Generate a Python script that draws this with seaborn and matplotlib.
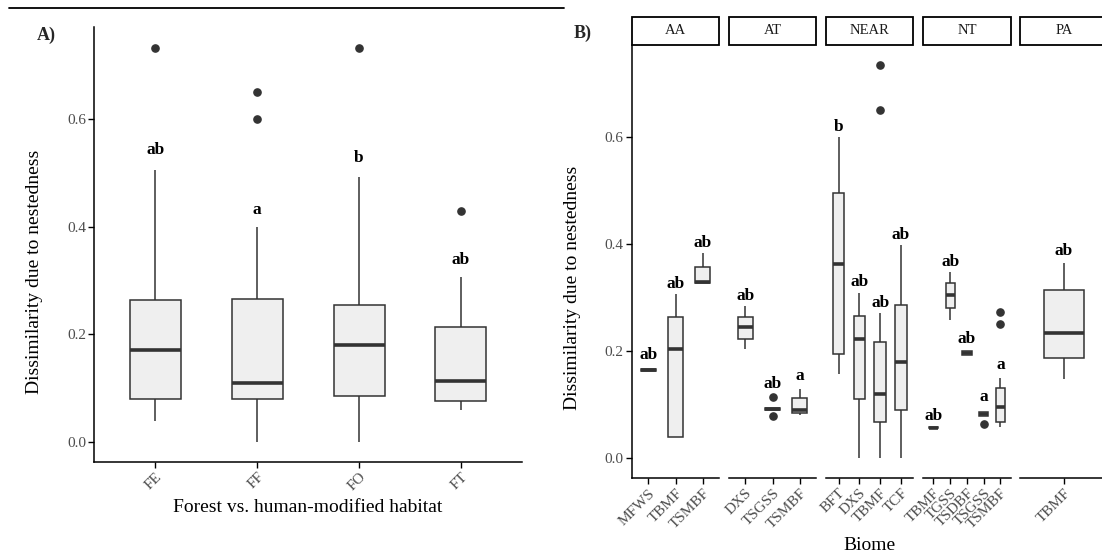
import matplotlib
matplotlib.use("Agg")
import matplotlib.pyplot as plt
from matplotlib.lines import Line2D
from matplotlib.patches import Rectangle
import pandas as pd
import seaborn as sns

# ---- Panel A: forest vs. human-modified habitat (box summaries) ----
habitat = ["FE", "FF", "FO", "FT"]
hab_low = [0.039, 0.000, 0.000, 0.059]
hab_q1 = [0.080, 0.080, 0.085, 0.075]
hab_med = [0.171, 0.109, 0.180, 0.114]
hab_q3 = [0.264, 0.265, 0.255, 0.213]
hab_high = [0.506, 0.400, 0.492, 0.306]
hab_out = [[0.733], [0.600, 0.650], [0.733], [0.430]]
hab_letters = ["ab", "a", "b", "ab"]
hab_letter_y = [0.535, 0.423, 0.520, 0.330]

# ---- Panel B: biomes within each realm ----
realms = ["AA", "AT", "NEAR", "NT", "PA"]
biome_realm = ["AA", "AA", "AA", "AT", "AT", "AT", "NEAR", "NEAR", "NEAR", "NEAR",
               "NT", "NT", "NT", "NT", "NT", "PA"]
biome_name = ["MFWS", "TBMF", "TSMBF", "DXS", "TSGSS", "TSMBF", "BFT", "DXS", "TBMF", "TCF",
              "TBMF", "TGSS", "TSDBF", "TSGSS", "TSMBF", "TBMF"]
biome_low = [0.164, 0.040, 0.327, 0.205, 0.090, 0.081, 0.157, 0.000, 0.000, 0.000,
             0.056, 0.259, 0.194, 0.079, 0.058, 0.149]
biome_q1 = [0.164, 0.040, 0.327, 0.223, 0.090, 0.085, 0.196, 0.111, 0.069, 0.091,
            0.056, 0.281, 0.194, 0.079, 0.069, 0.1875]
biome_med = [0.166, 0.205, 0.329, 0.2455, 0.0925, 0.091, 0.364, 0.2225, 0.121, 0.181,
             0.057, 0.305, 0.1975, 0.083, 0.0955, 0.234]
biome_q3 = [0.168, 0.264, 0.357, 0.265, 0.094, 0.1125, 0.496, 0.266, 0.218, 0.287,
            0.058, 0.3275, 0.201, 0.086, 0.132, 0.314]
biome_high = [0.168, 0.307, 0.384, 0.284, 0.094, 0.130, 0.600, 0.309, 0.271, 0.399,
              0.058, 0.348, 0.201, 0.086, 0.151, 0.365]
biome_out = [[], [], [], [], [0.079, 0.115], [], [], [], [0.650, 0.735], [],
             [], [], [], [0.065], [0.252, 0.274], []]
biome_letters = ["ab", "ab", "ab", "ab", "ab", "a", "b", "ab", "ab", "ab",
                 "ab", "ab", "ab", "a", "a", "ab"]
biome_letter_y = [0.186, 0.318, 0.395, 0.296, 0.132, 0.146, 0.611, 0.3225, 0.282, 0.410,
                  0.0725, 0.360, 0.216, 0.1075, 0.168, 0.3795]


def group_points(low, q1, med, q3, high, out, n=20):
    """Observations whose quartiles, whiskers and outliers equal the given summary."""
    pts = [q1] * n + [med] * n + [q3] * n
    if low < q1:
        pts.append(low)
    if high > q3:
        pts.append(high)
    return pts + list(out)


rows_a = []
for i, h in enumerate(habitat):
    for v in group_points(hab_low[i], hab_q1[i], hab_med[i], hab_q3[i], hab_high[i], hab_out[i]):
        rows_a.append({"habitat": h, "value": v})
df_a = pd.DataFrame(rows_a)

rows_b = []
for i in range(len(biome_name)):
    for v in group_points(biome_low[i], biome_q1[i], biome_med[i], biome_q3[i],
                          biome_high[i], biome_out[i]):
        rows_b.append({"realm": biome_realm[i], "biome": biome_name[i], "value": v})
df_b = pd.DataFrame(rows_b)

# ---- style ----
sns.set_theme(style="ticks")
plt.rcParams["font.family"] = ["Liberation Serif", "DejaVu Serif"]
plt.rcParams["axes.linewidth"] = 1.1

W, H = 1102, 555
BOX_FILL = "#efefef"
LINE = "#333333"
TICK_TXT = "#4d4d4d"
YLIM = (-0.037, 0.772)


def px_axes(x0, y_top, x1, y_bot):
    return [x0 / W, 1 - y_bot / H, (x1 - x0) / W, (y_bot - y_top) / H]


def draw_boxes(ax, data, xcol, order, width):
    sns.boxplot(data=data, x=xcol, y="value", order=order, ax=ax, width=width,
                color=BOX_FILL, linecolor=LINE, linewidth=1.1, fliersize=5.2,
                showcaps=False,
                medianprops=dict(linewidth=2.6, color=LINE),
                flierprops=dict(marker="o", markerfacecolor=LINE, markeredgecolor=LINE))
    ax.set_ylim(*YLIM)
    ax.set_xlim(-0.6, len(order) - 0.4)
    ax.set_xlabel("")
    ax.set_ylabel("")
    ax.spines["top"].set_visible(False)
    ax.spines["right"].set_visible(False)
    ax.spines["left"].set_color("black")
    ax.spines["bottom"].set_color("black")
    ax.tick_params(axis="both", length=4, width=1, color="black",
                   labelcolor=TICK_TXT, labelsize=11, pad=2)
    ax.set_xticks(range(len(order)))
    ax.set_xticklabels(order, rotation=45, ha="right", va="top", rotation_mode="anchor")
    ax.set_yticks([0.0, 0.2, 0.4, 0.6])
    ax.set_yticklabels(["0.0", "0.2", "0.4", "0.6"])
    ax.set_facecolor("white")


fig = plt.figure(figsize=(W / 100, H / 100), dpi=100)
fig.patch.set_facecolor("white")

# rule across the top of panel A
fig.add_artist(Line2D([9 / W, 564 / W], [1 - 8 / H, 1 - 8 / H], color="black", lw=1.3))

# ---- panel A ----
ax_a = fig.add_axes(px_axes(94.3, 26.7, 522, 461.7))
draw_boxes(ax_a, df_a, "habitat", habitat, 0.5)
for i, (lab, y) in enumerate(zip(hab_letters, hab_letter_y)):
    ax_a.text(i, y, lab, ha="center", va="baseline", fontsize=12.5, fontweight="bold", color="black")
ax_a.set_ylabel("Dissimilarity due to nestedness", fontsize=14, color="black")
ax_a.yaxis.set_label_coords(-51 / 427.7, 0.437)
fig.text(308 / W, 1 - 508 / H, "Forest vs. human-modified habitat", ha="center", va="center",
         fontsize=14, color="black")
fig.text(37 / W, 1 - 35 / H, "A)", ha="left", va="center", fontsize=13, fontweight="bold")

# ---- panel B: one facet per realm ----
facet_w, facet_step = 87.2, 97.1
b_left = 632.0
for k, realm in enumerate(realms):
    x0 = b_left + k * facet_step
    ax = fig.add_axes(px_axes(x0, 45, x0 + facet_w, 478.3))
    sub = df_b[df_b["realm"] == realm]
    order = [b for r, b in zip(biome_realm, biome_name) if r == realm]
    draw_boxes(ax, sub, "biome", order, 0.55)
    idx = [i for i, r in enumerate(biome_realm) if r == realm]
    for j, i in enumerate(idx):
        ax.text(j, biome_letter_y[i], biome_letters[i], ha="center", va="baseline",
                fontsize=12.5, fontweight="bold", color="black")
    if k == 0:
        ax.set_ylabel("Dissimilarity due to nestedness", fontsize=14, color="black")
        ax.yaxis.set_label_coords(-51 / facet_w, 0.44)
    else:
        ax.spines["left"].set_visible(False)
        ax.tick_params(axis="y", left=False, labelleft=False)
    # facet strip
    fig.add_artist(Rectangle((x0 / W, 1 - 45 / H), facet_w / W, 28.3 / H,
                             transform=fig.transFigure, facecolor="white",
                             edgecolor="black", lw=1.3))
    fig.text((x0 + facet_w / 2) / W, 1 - 31 / H, realm, ha="center", va="center",
             fontsize=10.5, color="#1a1a1a")

fig.text(869.5 / W, 1 - 545 / H, "Biome", ha="center", va="center", fontsize=14, color="black")
fig.text(574 / W, 1 - 33 / H, "B)", ha="left", va="center", fontsize=13, fontweight="bold")

fig.savefig("out.png", dpi=100, facecolor="white")
